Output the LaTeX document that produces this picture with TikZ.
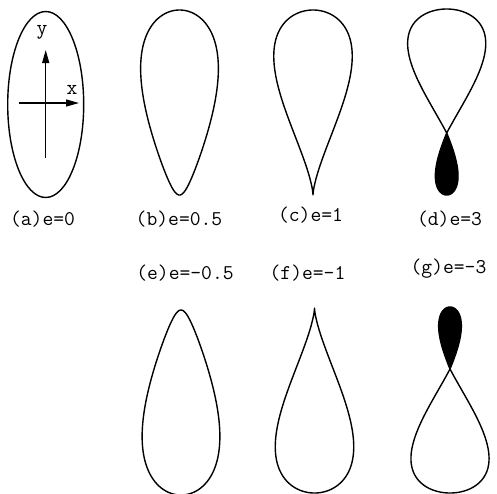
\documentclass[tikz,border=0pt]{standalone}
\usepackage{fontspec}
\usetikzlibrary{arrows.meta}
\newcommand\labfont{\ttfamily\addfontfeature{LetterSpace=7}}
\begin{document}
\begin{tikzpicture}[x=1pt,y=-1pt,
  curve/.style={line width=1.4pt, line join=round},
  axisarrow/.style={line width=1.3pt, -{Triangle[length=13pt,width=7pt]}},
  lab/.style={font=\labfont\fontsize{21}{23}\selectfont, inner sep=0pt}]
\useasboundingbox (0,0) rectangle (497,493);
% (a) ellipse with axes
\draw[curve] (45.7,104.5) ellipse [x radius=38, y radius=93];
\coordinate (yb) at (45.7,158);
\coordinate (yt) at (45.7,50);
\coordinate (xl) at (19,103);
\coordinate (xr) at (79,103);
\draw[axisarrow] (yb) -- (yt);
\draw[axisarrow] (xl) -- (xr);
\node[lab] (ly) at (42,32) {y};
\node[lab] (lx) at (72,90) {x};
% (b) e=0.5
\draw[curve] plot[domain=0:360, samples=361] ({179.5+35.3*cos(\x)*(1+0.5*sin(\x))},{102.5-92.5*sin(\x)}) -- cycle;
% (c) e=1
\draw[curve] plot[domain=0:360, samples=361] ({313+30.2*cos(\x)*(1+sin(\x))},{102.5-92.5*sin(\x)}) -- cycle;
% (d) e=3
\draw[curve] plot[domain=-19.47:199.47, samples=300] ({446.7+17.4*cos(\x)*(1+3*sin(\x))},{102-93*sin(\x)});
\filldraw[curve] plot[domain=199.47:340.53, samples=150] ({446.7+13.5*cos(\x)*(1+3*sin(\x))},{102-93*sin(\x)}) -- cycle;
% (e) e=-0.5
\draw[curve] plot[domain=0:360, samples=361] ({181+35.3*cos(\x)*(1-0.5*sin(\x))},{402.5-92.5*sin(\x)}) -- cycle;
% (f) e=-1
\draw[curve] plot[domain=0:360, samples=361] ({314.5+30.2*cos(\x)*(1-sin(\x))},{400.5-92.5*sin(\x)}) -- cycle;
% (g) e=-3
\draw[curve] plot[domain=160.53:379.47, samples=300] ({450+17.4*cos(\x)*(1-3*sin(\x))},{400-93*sin(\x)});
\filldraw[curve] plot[domain=19.47:160.53, samples=150] ({450+13.5*cos(\x)*(1-3*sin(\x))},{400-93*sin(\x)}) -- cycle;
% labels
\node[lab] (la) at (42.5,219) {(a)e=0};
\node[lab] (lb) at (179,219) {(b)e=0.5};
\node[lab] (lc) at (310.5,215) {(c)e=1};
\node[lab] (ld) at (449.5,219) {(d)e=3};
\node[lab] (le) at (185,273) {(e)e=-0.5};
\node[lab] (lf) at (307.5,273) {(f)e=-1};
\node[lab] (lg) at (448.5,269) {(g)e=-3};
\end{tikzpicture}
\end{document}
